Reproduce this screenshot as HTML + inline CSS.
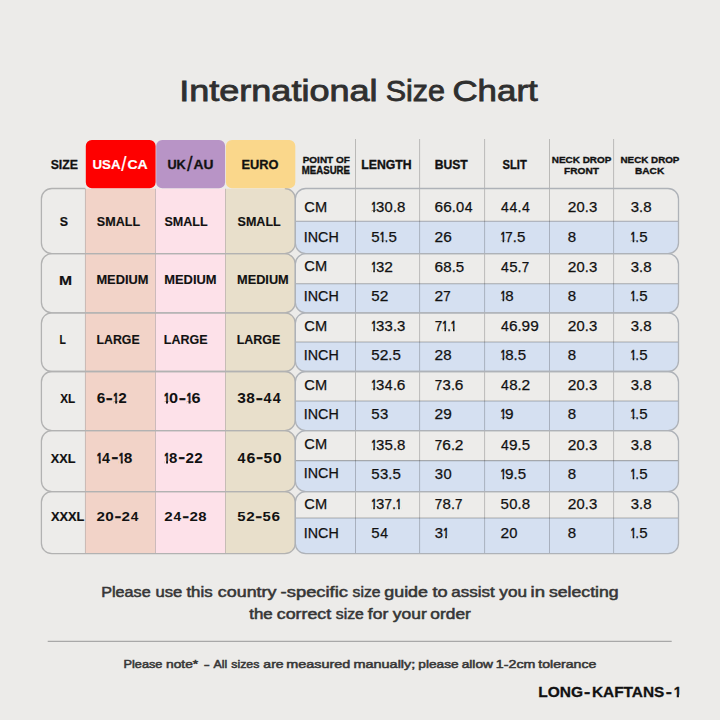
<!DOCTYPE html>
<html><head><meta charset="utf-8"><title>International Size Chart</title>
<style>
html,body{margin:0;padding:0;background:#ECEBE9;}
body{width:720px;height:720px;overflow:hidden;}
svg{display:block;}
text{font-family:"Liberation Sans", sans-serif;}
</style></head><body>
<svg width="720" height="720" viewBox="0 0 720 720">
<defs><clipPath id="cl0"><path d="M51.9,188.5 H284.8 A10.5,10.5 0 0 1 295.3,199 V243.1 A10.5,10.5 0 0 1 284.8,253.6 H51.9 A10.5,10.5 0 0 1 41.4,243.1 V199 A10.5,10.5 0 0 1 51.9,188.5 Z"/></clipPath><clipPath id="cr0"><path d="M305.8,188.5 H668 A10.5,10.5 0 0 1 678.5,199 V243.1 A10.5,10.5 0 0 1 668,253.6 H305.8 A10.5,10.5 0 0 1 295.3,243.1 V199 A10.5,10.5 0 0 1 305.8,188.5 Z"/></clipPath><clipPath id="cl1"><path d="M51.9,253.6 H284.8 A10.5,10.5 0 0 1 295.3,264.1 V302.3 A10.5,10.5 0 0 1 284.8,312.8 H51.9 A10.5,10.5 0 0 1 41.4,302.3 V264.1 A10.5,10.5 0 0 1 51.9,253.6 Z"/></clipPath><clipPath id="cr1"><path d="M305.8,253.6 H668 A10.5,10.5 0 0 1 678.5,264.1 V302.3 A10.5,10.5 0 0 1 668,312.8 H305.8 A10.5,10.5 0 0 1 295.3,302.3 V264.1 A10.5,10.5 0 0 1 305.8,253.6 Z"/></clipPath><clipPath id="cl2"><path d="M51.9,312.8 H284.8 A10.5,10.5 0 0 1 295.3,323.3 V361 A10.5,10.5 0 0 1 284.8,371.5 H51.9 A10.5,10.5 0 0 1 41.4,361 V323.3 A10.5,10.5 0 0 1 51.9,312.8 Z"/></clipPath><clipPath id="cr2"><path d="M305.8,312.8 H668 A10.5,10.5 0 0 1 678.5,323.3 V361 A10.5,10.5 0 0 1 668,371.5 H305.8 A10.5,10.5 0 0 1 295.3,361 V323.3 A10.5,10.5 0 0 1 305.8,312.8 Z"/></clipPath><clipPath id="cl3"><path d="M51.9,371.5 H284.8 A10.5,10.5 0 0 1 295.3,382 V420.1 A10.5,10.5 0 0 1 284.8,430.6 H51.9 A10.5,10.5 0 0 1 41.4,420.1 V382 A10.5,10.5 0 0 1 51.9,371.5 Z"/></clipPath><clipPath id="cr3"><path d="M305.8,371.5 H668 A10.5,10.5 0 0 1 678.5,382 V420.1 A10.5,10.5 0 0 1 668,430.6 H305.8 A10.5,10.5 0 0 1 295.3,420.1 V382 A10.5,10.5 0 0 1 305.8,371.5 Z"/></clipPath><clipPath id="cl4"><path d="M51.9,430.6 H284.8 A10.5,10.5 0 0 1 295.3,441.1 V481.1 A10.5,10.5 0 0 1 284.8,491.6 H51.9 A10.5,10.5 0 0 1 41.4,481.1 V441.1 A10.5,10.5 0 0 1 51.9,430.6 Z"/></clipPath><clipPath id="cr4"><path d="M305.8,430.6 H668 A10.5,10.5 0 0 1 678.5,441.1 V481.1 A10.5,10.5 0 0 1 668,491.6 H305.8 A10.5,10.5 0 0 1 295.3,481.1 V441.1 A10.5,10.5 0 0 1 305.8,430.6 Z"/></clipPath><clipPath id="cl5"><path d="M51.9,491.6 H284.8 A10.5,10.5 0 0 1 295.3,502.1 V543.2 A10.5,10.5 0 0 1 284.8,553.7 H51.9 A10.5,10.5 0 0 1 41.4,543.2 V502.1 A10.5,10.5 0 0 1 51.9,491.6 Z"/></clipPath><clipPath id="cr5"><path d="M305.8,491.6 H668 A10.5,10.5 0 0 1 678.5,502.1 V543.2 A10.5,10.5 0 0 1 668,553.7 H305.8 A10.5,10.5 0 0 1 295.3,543.2 V502.1 A10.5,10.5 0 0 1 305.8,491.6 Z"/></clipPath><clipPath id="h0"><path clip-rule="evenodd" d="M91.2,387.4 H132.1 V409.2 H91.2 Z M113.33,401.26 H115.21 V405.07 H113.33 Z M117.07,401.26 H119.11 V405.07 H117.07 Z"/></clipPath><clipPath id="h1"><path clip-rule="evenodd" d="M158.5,387.4 H206 V409.2 H158.5 Z M164.05,401.26 H166.04 V405.07 H164.05 Z M167.97,401.26 H170.11 V405.07 H167.97 Z M186.58,401.26 H188.57 V405.07 H186.58 Z M190.49,401.26 H192.64 V405.07 H190.49 Z"/></clipPath><clipPath id="h2"><path clip-rule="evenodd" d="M91.3,447 H138 V468.9 H91.3 Z M96.86,460.95 H98.79 V464.77 H96.86 Z M100.69,460.95 H102.79 V464.77 H100.69 Z M118.88,460.95 H120.82 V464.77 H118.88 Z M122.71,460.95 H124.81 V464.77 H122.71 Z"/></clipPath><clipPath id="h3"><path clip-rule="evenodd" d="M158.7,447 H208.3 V468.9 H158.7 Z M164.26,460.95 H166.14 V464.77 H164.26 Z M167.98,460.95 H170.03 V464.77 H167.98 Z"/></clipPath><clipPath id="h4"><path clip-rule="evenodd" d="M365.8,196.3 H437.8 V218.3 H365.8 Z M371.36,210.53 H373.3 V213.98 H371.36 Z M374.8,210.53 H376.91 V213.98 H374.8 Z"/></clipPath><clipPath id="h5"><path clip-rule="evenodd" d="M365.8,226 H437.8 V248 H365.8 Z M379.96,240.23 H381.9 V243.68 H379.96 Z M383.4,240.23 H385.51 V243.68 H383.4 Z"/></clipPath><clipPath id="h6"><path clip-rule="evenodd" d="M495.1,226 H567.1 V248 H495.1 Z M500.66,240.23 H502.6 V243.68 H500.66 Z M504.1,240.23 H506.21 V243.68 H504.1 Z"/></clipPath><clipPath id="h7"><path clip-rule="evenodd" d="M625.2,226 H697.2 V248 H625.2 Z M630.76,240.23 H632.7 V243.68 H630.76 Z M634.2,240.23 H636.31 V243.68 H634.2 Z"/></clipPath><clipPath id="h8"><path clip-rule="evenodd" d="M365.8,255.5 H437.8 V277.5 H365.8 Z M371.36,269.73 H373.3 V273.18 H371.36 Z M374.8,269.73 H376.91 V273.18 H374.8 Z"/></clipPath><clipPath id="h9"><path clip-rule="evenodd" d="M495.1,285 H567.1 V307 H495.1 Z M500.66,299.23 H502.6 V302.68 H500.66 Z M504.1,299.23 H506.21 V302.68 H504.1 Z"/></clipPath><clipPath id="h10"><path clip-rule="evenodd" d="M625.2,285 H697.2 V307 H625.2 Z M630.76,299.23 H632.7 V302.68 H630.76 Z M634.2,299.23 H636.31 V302.68 H634.2 Z"/></clipPath><clipPath id="h11"><path clip-rule="evenodd" d="M365.8,314.8 H437.8 V336.8 H365.8 Z M371.36,329.03 H373.3 V332.48 H371.36 Z M374.8,329.03 H376.91 V332.48 H374.8 Z"/></clipPath><clipPath id="h12"><path clip-rule="evenodd" d="M429.2,314.8 H501.2 V336.8 H429.2 Z M442.56,329.03 H444.5 V332.48 H442.56 Z M446,329.03 H448.11 V332.48 H446 Z M451.06,329.03 H453 V332.48 H451.06 Z M454.5,329.03 H456.61 V332.48 H454.5 Z"/></clipPath><clipPath id="h13"><path clip-rule="evenodd" d="M495.1,344.1 H567.1 V366.1 H495.1 Z M500.66,358.33 H502.6 V361.78 H500.66 Z M504.1,358.33 H506.21 V361.78 H504.1 Z"/></clipPath><clipPath id="h14"><path clip-rule="evenodd" d="M625.2,344.1 H697.2 V366.1 H625.2 Z M630.76,358.33 H632.7 V361.78 H630.76 Z M634.2,358.33 H636.31 V361.78 H634.2 Z"/></clipPath><clipPath id="h15"><path clip-rule="evenodd" d="M365.8,373.9 H437.8 V395.9 H365.8 Z M371.36,388.13 H373.3 V391.57 H371.36 Z M374.8,388.13 H376.91 V391.57 H374.8 Z"/></clipPath><clipPath id="h16"><path clip-rule="evenodd" d="M495.1,403.3 H567.1 V425.3 H495.1 Z M500.66,417.53 H502.6 V420.98 H500.66 Z M504.1,417.53 H506.21 V420.98 H504.1 Z"/></clipPath><clipPath id="h17"><path clip-rule="evenodd" d="M625.2,403.3 H697.2 V425.3 H625.2 Z M630.76,417.53 H632.7 V420.98 H630.76 Z M634.2,417.53 H636.31 V420.98 H634.2 Z"/></clipPath><clipPath id="h18"><path clip-rule="evenodd" d="M365.8,433.5 H437.8 V455.5 H365.8 Z M371.36,447.73 H373.3 V451.18 H371.36 Z M374.8,447.73 H376.91 V451.18 H374.8 Z"/></clipPath><clipPath id="h19"><path clip-rule="evenodd" d="M495.1,462.5 H567.1 V484.5 H495.1 Z M500.66,476.73 H502.6 V480.18 H500.66 Z M504.1,476.73 H506.21 V480.18 H504.1 Z"/></clipPath><clipPath id="h20"><path clip-rule="evenodd" d="M625.2,462.5 H697.2 V484.5 H625.2 Z M630.76,476.73 H632.7 V480.18 H630.76 Z M634.2,476.73 H636.31 V480.18 H634.2 Z"/></clipPath><clipPath id="h21"><path clip-rule="evenodd" d="M365.8,492.7 H437.8 V514.7 H365.8 Z M371.36,506.93 H373.3 V510.38 H371.36 Z M374.8,506.93 H376.91 V510.38 H374.8 Z M396.26,506.93 H398.2 V510.38 H396.26 Z M399.7,506.93 H401.81 V510.38 H399.7 Z"/></clipPath><clipPath id="h22"><path clip-rule="evenodd" d="M429.2,521.8 H501.2 V543.8 H429.2 Z M443.36,536.03 H445.3 V539.47 H443.36 Z M446.8,536.03 H448.91 V539.47 H446.8 Z"/></clipPath><clipPath id="h23"><path clip-rule="evenodd" d="M625.2,521.8 H697.2 V543.8 H625.2 Z M630.76,536.03 H632.7 V539.47 H630.76 Z M634.2,536.03 H636.31 V539.47 H634.2 Z"/></clipPath><clipPath id="h24"><path clip-rule="evenodd" d="M533.35,677.95 H684.75 V704.65 H533.35 Z M673.93,694.81 H676.78 V698.3 H673.93 Z M678.9,694.81 H682.41 V698.3 H678.9 Z"/></clipPath></defs>
<rect width="720" height="720" fill="#ECEBE9"/>
<g clip-path="url(#cl0)">
<rect x="41.4" y="188.5" width="44" height="65.1" fill="#EDECEA"/>
<rect x="85.4" y="188.5" width="70.1" height="65.1" fill="#F2D3C8"/>
<rect x="155.5" y="188.5" width="70" height="65.1" fill="#FDE1E9"/>
<rect x="225.5" y="188.5" width="69.8" height="65.1" fill="#E8DFCB"/>
<line x1="85.4" y1="188.5" x2="85.4" y2="253.6" stroke="#000" stroke-opacity="0.17" stroke-width="1"/>
<line x1="155.5" y1="188.5" x2="155.5" y2="253.6" stroke="#000" stroke-opacity="0.17" stroke-width="1"/>
<line x1="225.5" y1="188.5" x2="225.5" y2="253.6" stroke="#000" stroke-opacity="0.17" stroke-width="1"/>
</g>
<g clip-path="url(#cr0)">
<rect x="295.3" y="188.5" width="383.2" height="32.8" fill="#EDECEA"/>
<rect x="295.3" y="221.3" width="383.2" height="32.3" fill="#D5E0F1"/>
<line x1="295.3" y1="221.3" x2="678.5" y2="221.3" stroke="#000" stroke-opacity="0.27" stroke-width="1.1"/>
</g>
<g clip-path="url(#cl1)">
<rect x="41.4" y="253.6" width="44" height="59.2" fill="#EDECEA"/>
<rect x="85.4" y="253.6" width="70.1" height="59.2" fill="#F2D3C8"/>
<rect x="155.5" y="253.6" width="70" height="59.2" fill="#FDE1E9"/>
<rect x="225.5" y="253.6" width="69.8" height="59.2" fill="#E8DFCB"/>
<line x1="85.4" y1="253.6" x2="85.4" y2="312.8" stroke="#000" stroke-opacity="0.17" stroke-width="1"/>
<line x1="155.5" y1="253.6" x2="155.5" y2="312.8" stroke="#000" stroke-opacity="0.17" stroke-width="1"/>
<line x1="225.5" y1="253.6" x2="225.5" y2="312.8" stroke="#000" stroke-opacity="0.17" stroke-width="1"/>
</g>
<g clip-path="url(#cr1)">
<rect x="295.3" y="253.6" width="383.2" height="30.1" fill="#EDECEA"/>
<rect x="295.3" y="283.7" width="383.2" height="29.1" fill="#D5E0F1"/>
<line x1="295.3" y1="283.7" x2="678.5" y2="283.7" stroke="#000" stroke-opacity="0.27" stroke-width="1.1"/>
</g>
<g clip-path="url(#cl2)">
<rect x="41.4" y="312.8" width="44" height="58.7" fill="#EDECEA"/>
<rect x="85.4" y="312.8" width="70.1" height="58.7" fill="#F2D3C8"/>
<rect x="155.5" y="312.8" width="70" height="58.7" fill="#FDE1E9"/>
<rect x="225.5" y="312.8" width="69.8" height="58.7" fill="#E8DFCB"/>
<line x1="85.4" y1="312.8" x2="85.4" y2="371.5" stroke="#000" stroke-opacity="0.17" stroke-width="1"/>
<line x1="155.5" y1="312.8" x2="155.5" y2="371.5" stroke="#000" stroke-opacity="0.17" stroke-width="1"/>
<line x1="225.5" y1="312.8" x2="225.5" y2="371.5" stroke="#000" stroke-opacity="0.17" stroke-width="1"/>
</g>
<g clip-path="url(#cr2)">
<rect x="295.3" y="312.8" width="383.2" height="29.2" fill="#EDECEA"/>
<rect x="295.3" y="342.0" width="383.2" height="29.5" fill="#D5E0F1"/>
<line x1="295.3" y1="342.0" x2="678.5" y2="342.0" stroke="#000" stroke-opacity="0.27" stroke-width="1.1"/>
</g>
<g clip-path="url(#cl3)">
<rect x="41.4" y="371.5" width="44" height="59.1" fill="#EDECEA"/>
<rect x="85.4" y="371.5" width="70.1" height="59.1" fill="#F2D3C8"/>
<rect x="155.5" y="371.5" width="70" height="59.1" fill="#FDE1E9"/>
<rect x="225.5" y="371.5" width="69.8" height="59.1" fill="#E8DFCB"/>
<line x1="85.4" y1="371.5" x2="85.4" y2="430.6" stroke="#000" stroke-opacity="0.17" stroke-width="1"/>
<line x1="155.5" y1="371.5" x2="155.5" y2="430.6" stroke="#000" stroke-opacity="0.17" stroke-width="1"/>
<line x1="225.5" y1="371.5" x2="225.5" y2="430.6" stroke="#000" stroke-opacity="0.17" stroke-width="1"/>
</g>
<g clip-path="url(#cr3)">
<rect x="295.3" y="371.5" width="383.2" height="29.5" fill="#EDECEA"/>
<rect x="295.3" y="401.0" width="383.2" height="29.6" fill="#D5E0F1"/>
<line x1="295.3" y1="401.0" x2="678.5" y2="401.0" stroke="#000" stroke-opacity="0.27" stroke-width="1.1"/>
</g>
<g clip-path="url(#cl4)">
<rect x="41.4" y="430.6" width="44" height="61" fill="#EDECEA"/>
<rect x="85.4" y="430.6" width="70.1" height="61" fill="#F2D3C8"/>
<rect x="155.5" y="430.6" width="70" height="61" fill="#FDE1E9"/>
<rect x="225.5" y="430.6" width="69.8" height="61" fill="#E8DFCB"/>
<line x1="85.4" y1="430.6" x2="85.4" y2="491.6" stroke="#000" stroke-opacity="0.17" stroke-width="1"/>
<line x1="155.5" y1="430.6" x2="155.5" y2="491.6" stroke="#000" stroke-opacity="0.17" stroke-width="1"/>
<line x1="225.5" y1="430.6" x2="225.5" y2="491.6" stroke="#000" stroke-opacity="0.17" stroke-width="1"/>
</g>
<g clip-path="url(#cr4)">
<rect x="295.3" y="430.6" width="383.2" height="30" fill="#EDECEA"/>
<rect x="295.3" y="460.6" width="383.2" height="31" fill="#D5E0F1"/>
<line x1="295.3" y1="460.6" x2="678.5" y2="460.6" stroke="#000" stroke-opacity="0.27" stroke-width="1.1"/>
</g>
<g clip-path="url(#cl5)">
<rect x="41.4" y="491.6" width="44" height="62.1" fill="#EDECEA"/>
<rect x="85.4" y="491.6" width="70.1" height="62.1" fill="#F2D3C8"/>
<rect x="155.5" y="491.6" width="70" height="62.1" fill="#FDE1E9"/>
<rect x="225.5" y="491.6" width="69.8" height="62.1" fill="#E8DFCB"/>
<line x1="85.4" y1="491.6" x2="85.4" y2="553.7" stroke="#000" stroke-opacity="0.17" stroke-width="1"/>
<line x1="155.5" y1="491.6" x2="155.5" y2="553.7" stroke="#000" stroke-opacity="0.17" stroke-width="1"/>
<line x1="225.5" y1="491.6" x2="225.5" y2="553.7" stroke="#000" stroke-opacity="0.17" stroke-width="1"/>
</g>
<g clip-path="url(#cr5)">
<rect x="295.3" y="491.6" width="383.2" height="26.4" fill="#EDECEA"/>
<rect x="295.3" y="518.0" width="383.2" height="35.7" fill="#D5E0F1"/>
<line x1="295.3" y1="518.0" x2="678.5" y2="518.0" stroke="#000" stroke-opacity="0.27" stroke-width="1.1"/>
</g>
<line x1="355.5" y1="139" x2="355.5" y2="554" stroke="#000" stroke-opacity="0.21" stroke-width="1"/>
<line x1="419.6" y1="139" x2="419.6" y2="554" stroke="#000" stroke-opacity="0.21" stroke-width="1"/>
<line x1="484.6" y1="139" x2="484.6" y2="554" stroke="#000" stroke-opacity="0.21" stroke-width="1"/>
<line x1="549.5" y1="139" x2="549.5" y2="554" stroke="#000" stroke-opacity="0.21" stroke-width="1"/>
<line x1="613.6" y1="139" x2="613.6" y2="554" stroke="#000" stroke-opacity="0.21" stroke-width="1"/>
<path d="M85.4,188.5 H51.9 A10.5,10.5 0 0 0 41.4,199 V243.1 A10.5,10.5 0 0 0 51.9,253.6 H284.8 A10.5,10.5 0 0 0 295.3,243.1 V199 A10.5,10.5 0 0 0 284.8,188.5" fill="none" stroke="#B2B2B2" stroke-width="1.3"/>
<path d="M305.8,188.5 H668 A10.5,10.5 0 0 1 678.5,199 V243.1 A10.5,10.5 0 0 1 668,253.6 H305.8 A10.5,10.5 0 0 1 295.3,243.1 V199 A10.5,10.5 0 0 1 305.8,188.5 Z" fill="none" stroke="#AEB2B8" stroke-width="1.3"/>
<path d="M51.9,253.6 H284.8 A10.5,10.5 0 0 1 295.3,264.1 V302.3 A10.5,10.5 0 0 1 284.8,312.8 H51.9 A10.5,10.5 0 0 1 41.4,302.3 V264.1 A10.5,10.5 0 0 1 51.9,253.6 Z" fill="none" stroke="#B2B2B2" stroke-width="1.3"/>
<path d="M305.8,253.6 H668 A10.5,10.5 0 0 1 678.5,264.1 V302.3 A10.5,10.5 0 0 1 668,312.8 H305.8 A10.5,10.5 0 0 1 295.3,302.3 V264.1 A10.5,10.5 0 0 1 305.8,253.6 Z" fill="none" stroke="#AEB2B8" stroke-width="1.3"/>
<path d="M51.9,312.8 H284.8 A10.5,10.5 0 0 1 295.3,323.3 V361 A10.5,10.5 0 0 1 284.8,371.5 H51.9 A10.5,10.5 0 0 1 41.4,361 V323.3 A10.5,10.5 0 0 1 51.9,312.8 Z" fill="none" stroke="#B2B2B2" stroke-width="1.3"/>
<path d="M305.8,312.8 H668 A10.5,10.5 0 0 1 678.5,323.3 V361 A10.5,10.5 0 0 1 668,371.5 H305.8 A10.5,10.5 0 0 1 295.3,361 V323.3 A10.5,10.5 0 0 1 305.8,312.8 Z" fill="none" stroke="#AEB2B8" stroke-width="1.3"/>
<path d="M51.9,371.5 H284.8 A10.5,10.5 0 0 1 295.3,382 V420.1 A10.5,10.5 0 0 1 284.8,430.6 H51.9 A10.5,10.5 0 0 1 41.4,420.1 V382 A10.5,10.5 0 0 1 51.9,371.5 Z" fill="none" stroke="#B2B2B2" stroke-width="1.3"/>
<path d="M305.8,371.5 H668 A10.5,10.5 0 0 1 678.5,382 V420.1 A10.5,10.5 0 0 1 668,430.6 H305.8 A10.5,10.5 0 0 1 295.3,420.1 V382 A10.5,10.5 0 0 1 305.8,371.5 Z" fill="none" stroke="#AEB2B8" stroke-width="1.3"/>
<path d="M51.9,430.6 H284.8 A10.5,10.5 0 0 1 295.3,441.1 V481.1 A10.5,10.5 0 0 1 284.8,491.6 H51.9 A10.5,10.5 0 0 1 41.4,481.1 V441.1 A10.5,10.5 0 0 1 51.9,430.6 Z" fill="none" stroke="#B2B2B2" stroke-width="1.3"/>
<path d="M305.8,430.6 H668 A10.5,10.5 0 0 1 678.5,441.1 V481.1 A10.5,10.5 0 0 1 668,491.6 H305.8 A10.5,10.5 0 0 1 295.3,481.1 V441.1 A10.5,10.5 0 0 1 305.8,430.6 Z" fill="none" stroke="#AEB2B8" stroke-width="1.3"/>
<path d="M51.9,491.6 H284.8 A10.5,10.5 0 0 1 295.3,502.1 V543.2 A10.5,10.5 0 0 1 284.8,553.7 H51.9 A10.5,10.5 0 0 1 41.4,543.2 V502.1 A10.5,10.5 0 0 1 51.9,491.6 Z" fill="none" stroke="#B2B2B2" stroke-width="1.3"/>
<path d="M305.8,491.6 H668 A10.5,10.5 0 0 1 678.5,502.1 V543.2 A10.5,10.5 0 0 1 668,553.7 H305.8 A10.5,10.5 0 0 1 295.3,543.2 V502.1 A10.5,10.5 0 0 1 305.8,491.6 Z" fill="none" stroke="#AEB2B8" stroke-width="1.3"/>
<path d="M91.8,140 H149.6 A6,6 0 0 1 155.6,146 V182.3 A6,6 0 0 1 149.6,188.3 H91.8 A6,6 0 0 1 85.8,182.3 V146 A6,6 0 0 1 91.8,140 Z" fill="#FE0000"/>
<path d="M162.2,140 H219.1 A6,6 0 0 1 225.1,146 V182.3 A6,6 0 0 1 219.1,188.3 H162.2 A6,6 0 0 1 156.2,182.3 V146 A6,6 0 0 1 162.2,140 Z" fill="#B894C6"/>
<path d="M231.9,140 H289.3 A6,6 0 0 1 295.3,146 V182.3 A6,6 0 0 1 289.3,188.3 H231.9 A6,6 0 0 1 225.9,182.3 V146 A6,6 0 0 1 231.9,140 Z" fill="#FAD78B"/>
<line x1="47.7" y1="641.3" x2="671.7" y2="641.3" stroke="#A8A8A8" stroke-width="1.2"/>
<text y="101.4" font-size="28.7" font-weight="400" fill="#2f2f2f" stroke="#2f2f2f" stroke-width="0.8"><tspan x="179.15" textLength="198.49" lengthAdjust="spacingAndGlyphs">International</tspan> <tspan x="385.73" textLength="59.33" lengthAdjust="spacingAndGlyphs">Size</tspan> <tspan x="452.46" textLength="85.24" lengthAdjust="spacingAndGlyphs">Chart</tspan></text>
<text x="50.64" y="168.75" font-size="13.38" font-weight="700" fill="#111" stroke="#111" stroke-width="0.3" textLength="27.36" lengthAdjust="spacingAndGlyphs">SIZE</text>
<text y="169.2" font-size="13.38" font-weight="700" fill="#ffffff" stroke="#ffffff" stroke-width="0.2"><tspan x="92.5" y="169.2" font-size="13.38" textLength="28.09" lengthAdjust="spacingAndGlyphs">USA</tspan><tspan x="121.35" y="171.49" font-size="20.54" font-weight="400" textLength="5.21" lengthAdjust="spacingAndGlyphs">/</tspan><tspan x="127.44" y="169.2" font-size="13.38" textLength="20.27" lengthAdjust="spacingAndGlyphs">CA</tspan></text>
<text y="169.15" font-size="13.24" font-weight="700" fill="#111" stroke="#111" stroke-width="0.3"><tspan x="167.39" y="169.15" font-size="13.24" textLength="18.35" lengthAdjust="spacingAndGlyphs">UK</tspan><tspan x="187.05" y="171.44" font-size="20.41" font-weight="400" textLength="5.51" lengthAdjust="spacingAndGlyphs">/</tspan><tspan x="193.47" y="169.15" font-size="13.24" textLength="19.91" lengthAdjust="spacingAndGlyphs">AU</tspan></text>
<text x="241.42" y="168.75" font-size="12.81" font-weight="700" fill="#111" stroke="#111" stroke-width="0.3" textLength="37.02" lengthAdjust="spacingAndGlyphs">EURO</text>
<text x="302.73" y="163.02" font-size="9.57" font-weight="700" fill="#111" stroke="#111" stroke-width="0.35" textLength="47.05" lengthAdjust="spacingAndGlyphs">POINT OF</text>
<text x="301.85" y="174.02" font-size="10" font-weight="700" fill="#111" stroke="#111" stroke-width="0.35" textLength="48.13" lengthAdjust="spacingAndGlyphs">MEASURE</text>
<text x="361.28" y="168.82" font-size="12.73" font-weight="700" fill="#111" stroke="#111" stroke-width="0.35" textLength="50.37" lengthAdjust="spacingAndGlyphs">LENGTH</text>
<text x="434.69" y="168.82" font-size="12.73" font-weight="700" fill="#111" stroke="#111" stroke-width="0.35" textLength="33.01" lengthAdjust="spacingAndGlyphs">BUST</text>
<text x="502.6" y="168.82" font-size="12.73" font-weight="700" fill="#111" stroke="#111" stroke-width="0.35" textLength="24.19" lengthAdjust="spacingAndGlyphs">SLIT</text>
<text x="551.83" y="162.72" font-size="9.71" font-weight="700" fill="#111" stroke="#111" stroke-width="0.35" textLength="59.51" lengthAdjust="spacingAndGlyphs">NECK DROP</text>
<text x="564.02" y="174.42" font-size="9.86" font-weight="700" fill="#111" stroke="#111" stroke-width="0.35" textLength="34.87" lengthAdjust="spacingAndGlyphs">FRONT</text>
<text x="620.54" y="162.72" font-size="9.71" font-weight="700" fill="#111" stroke="#111" stroke-width="0.35" textLength="58.9" lengthAdjust="spacingAndGlyphs">NECK DROP</text>
<text x="635.02" y="174.42" font-size="9.86" font-weight="700" fill="#111" stroke="#111" stroke-width="0.35" textLength="29.18" lengthAdjust="spacingAndGlyphs">BACK</text>
<text x="59.79" y="225.8" font-size="13.38" font-weight="700" fill="#111" stroke="#111" stroke-width="0.2" textLength="8.27" lengthAdjust="spacingAndGlyphs">S</text>
<text x="96.86" y="225.78" font-size="13.53" font-weight="700" fill="#111" stroke="#111" stroke-width="0.15" textLength="43.19" lengthAdjust="spacingAndGlyphs">SMALL</text>
<text x="164.46" y="225.78" font-size="13.53" font-weight="700" fill="#111" stroke="#111" stroke-width="0.15" textLength="43.19" lengthAdjust="spacingAndGlyphs">SMALL</text>
<text x="237.56" y="225.78" font-size="13.53" font-weight="700" fill="#111" stroke="#111" stroke-width="0.15" textLength="43.19" lengthAdjust="spacingAndGlyphs">SMALL</text>
<text x="59.08" y="284.9" font-size="13.53" font-weight="700" fill="#111" stroke="#111" stroke-width="0.2" textLength="13.06" lengthAdjust="spacingAndGlyphs">M</text>
<text x="96.44" y="283.82" font-size="12.45" font-weight="700" fill="#111" stroke="#111" stroke-width="0.15" textLength="51.99" lengthAdjust="spacingAndGlyphs">MEDIUM</text>
<text x="164.24" y="283.82" font-size="12.45" font-weight="700" fill="#111" stroke="#111" stroke-width="0.15" textLength="52.3" lengthAdjust="spacingAndGlyphs">MEDIUM</text>
<text x="237.05" y="283.82" font-size="12.45" font-weight="700" fill="#111" stroke="#111" stroke-width="0.15" textLength="51.68" lengthAdjust="spacingAndGlyphs">MEDIUM</text>
<text x="59.43" y="343.6" font-size="13.67" font-weight="700" fill="#111" stroke="#111" stroke-width="0.2" textLength="6.34" lengthAdjust="spacingAndGlyphs">L</text>
<text x="96.47" y="343.73" font-size="13.53" font-weight="700" fill="#111" stroke="#111" stroke-width="0.15" textLength="43.21" lengthAdjust="spacingAndGlyphs">LARGE</text>
<text x="163.76" y="343.73" font-size="13.53" font-weight="700" fill="#111" stroke="#111" stroke-width="0.15" textLength="43.72" lengthAdjust="spacingAndGlyphs">LARGE</text>
<text x="236.76" y="343.73" font-size="13.53" font-weight="700" fill="#111" stroke="#111" stroke-width="0.15" textLength="43.62" lengthAdjust="spacingAndGlyphs">LARGE</text>
<text x="60.24" y="403.2" font-size="13.24" font-weight="700" fill="#111" stroke="#111" stroke-width="0.2" textLength="14.96" lengthAdjust="spacingAndGlyphs">XL</text>
<text y="403.2" font-size="14.1" font-weight="700" fill="#111" clip-path="url(#h0)"><tspan x="96.66" textLength="8.58" lengthAdjust="spacingAndGlyphs" y="403.2">6</tspan><tspan x="106.13" textLength="6.46" lengthAdjust="spacingAndGlyphs" stroke="#111" stroke-width="0.45" y="402.6">-</tspan><tspan x="113.6" textLength="4.72" lengthAdjust="spacingAndGlyphs" stroke="#111" stroke-width="0.75" y="403.2">1</tspan><tspan x="118.15" textLength="8.5" lengthAdjust="spacingAndGlyphs" y="403.2">2</tspan></text>
<text y="403.2" font-size="14.1" font-weight="700" fill="#111" clip-path="url(#h1)"><tspan x="164.29" textLength="5.03" lengthAdjust="spacingAndGlyphs" stroke="#111" stroke-width="0.75" y="403.2">1</tspan><tspan x="169.03" textLength="9.03" lengthAdjust="spacingAndGlyphs" y="403.2">0</tspan><tspan x="178.97" textLength="6.82" lengthAdjust="spacingAndGlyphs" stroke="#111" stroke-width="0.45" y="402.6">-</tspan><tspan x="186.82" textLength="5.03" lengthAdjust="spacingAndGlyphs" stroke="#111" stroke-width="0.75" y="403.2">1</tspan><tspan x="191.55" textLength="9.03" lengthAdjust="spacingAndGlyphs" y="403.2">6</tspan></text>
<text y="403.2" font-size="14.1" font-weight="700" fill="#111"><tspan x="237.19" textLength="8.61" lengthAdjust="spacingAndGlyphs" y="403.2">3</tspan><tspan x="246.33" textLength="8.61" lengthAdjust="spacingAndGlyphs" y="403.2">8</tspan><tspan x="256.01" textLength="6.69" lengthAdjust="spacingAndGlyphs" stroke="#111" stroke-width="0.45" y="402.6">-</tspan><tspan x="263.55" textLength="7.97" lengthAdjust="spacingAndGlyphs" y="403.2">4</tspan><tspan x="272.84" textLength="7.97" lengthAdjust="spacingAndGlyphs" y="403.2">4</tspan></text>
<text x="50.84" y="462.8" font-size="13.24" font-weight="700" fill="#111" stroke="#111" stroke-width="0.2" textLength="24.69" lengthAdjust="spacingAndGlyphs">XXL</text>
<text y="462.9" font-size="14.24" font-weight="700" fill="#111" clip-path="url(#h2)"><tspan x="97.1" textLength="4.89" lengthAdjust="spacingAndGlyphs" stroke="#111" stroke-width="0.75" y="462.9">1</tspan><tspan x="102.07" textLength="7.93" lengthAdjust="spacingAndGlyphs" y="462.9">4</tspan><tspan x="111.45" textLength="6.66" lengthAdjust="spacingAndGlyphs" stroke="#111" stroke-width="0.45" y="462.3">-</tspan><tspan x="119.12" textLength="4.89" lengthAdjust="spacingAndGlyphs" stroke="#111" stroke-width="0.75" y="462.9">1</tspan><tspan x="123.84" textLength="8.56" lengthAdjust="spacingAndGlyphs" y="462.9">8</tspan></text>
<text y="462.9" font-size="14.24" font-weight="700" fill="#111" clip-path="url(#h3)"><tspan x="164.53" textLength="4.69" lengthAdjust="spacingAndGlyphs" stroke="#111" stroke-width="0.75" y="462.9">1</tspan><tspan x="169.08" textLength="8.3" lengthAdjust="spacingAndGlyphs" y="462.9">8</tspan><tspan x="178.42" textLength="6.43" lengthAdjust="spacingAndGlyphs" stroke="#111" stroke-width="0.45" y="462.3">-</tspan><tspan x="185.43" textLength="8.47" lengthAdjust="spacingAndGlyphs" y="462.9">2</tspan><tspan x="194.38" textLength="8.47" lengthAdjust="spacingAndGlyphs" y="462.9">2</tspan></text>
<text y="462.9" font-size="14.24" font-weight="700" fill="#111"><tspan x="237.48" textLength="7.97" lengthAdjust="spacingAndGlyphs" y="462.9">4</tspan><tspan x="246.43" textLength="8.87" lengthAdjust="spacingAndGlyphs" y="462.9">6</tspan><tspan x="256.21" textLength="6.69" lengthAdjust="spacingAndGlyphs" stroke="#111" stroke-width="0.45" y="462.3">-</tspan><tspan x="263.5" textLength="8.61" lengthAdjust="spacingAndGlyphs" y="462.9">5</tspan><tspan x="272.7" textLength="8.87" lengthAdjust="spacingAndGlyphs" y="462.9">0</tspan></text>
<text x="50.94" y="521.3" font-size="12.81" font-weight="700" fill="#111" stroke="#111" stroke-width="0.2" textLength="33.5" lengthAdjust="spacingAndGlyphs">XXXL</text>
<text y="521.4" font-size="13.09" font-weight="700" fill="#111"><tspan x="96.45" textLength="8.42" lengthAdjust="spacingAndGlyphs" y="521.4">2</tspan><tspan x="105.27" textLength="8.51" lengthAdjust="spacingAndGlyphs" y="521.4">0</tspan><tspan x="114.66" textLength="6.39" lengthAdjust="spacingAndGlyphs" stroke="#111" stroke-width="0.45" y="520.8">-</tspan><tspan x="121.62" textLength="8.42" lengthAdjust="spacingAndGlyphs" y="521.4">2</tspan><tspan x="130.77" textLength="7.64" lengthAdjust="spacingAndGlyphs" y="521.4">4</tspan></text>
<text y="521.4" font-size="13.09" font-weight="700" fill="#111"><tspan x="164.25" textLength="8.42" lengthAdjust="spacingAndGlyphs" y="521.4">2</tspan><tspan x="173.4" textLength="7.64" lengthAdjust="spacingAndGlyphs" y="521.4">4</tspan><tspan x="182.46" textLength="6.39" lengthAdjust="spacingAndGlyphs" stroke="#111" stroke-width="0.45" y="520.8">-</tspan><tspan x="189.42" textLength="8.42" lengthAdjust="spacingAndGlyphs" y="521.4">2</tspan><tspan x="198.34" textLength="8.25" lengthAdjust="spacingAndGlyphs" y="521.4">8</tspan></text>
<text y="521.4" font-size="13.09" font-weight="700" fill="#111"><tspan x="237.25" textLength="8.31" lengthAdjust="spacingAndGlyphs" y="521.4">5</tspan><tspan x="246.21" textLength="8.48" lengthAdjust="spacingAndGlyphs" y="521.4">2</tspan><tspan x="255.58" textLength="6.44" lengthAdjust="spacingAndGlyphs" stroke="#111" stroke-width="0.45" y="520.8">-</tspan><tspan x="262.61" textLength="8.31" lengthAdjust="spacingAndGlyphs" y="521.4">5</tspan><tspan x="271.49" textLength="8.57" lengthAdjust="spacingAndGlyphs" y="521.4">6</tspan></text>
<text x="304.39" y="212.18" font-size="14.13" font-weight="400" fill="#111" stroke="#111" stroke-width="0.25" textLength="22.72" lengthAdjust="spacingAndGlyphs">CM</text>
<text x="303.84" y="241.88" font-size="14.13" font-weight="400" fill="#111" stroke="#111" stroke-width="0.25" textLength="34.94" lengthAdjust="spacingAndGlyphs">INCH</text>
<text y="212.3" font-size="14.49" font-weight="400" fill="#111" stroke="#111" stroke-width="0.25" clip-path="url(#h4)"><tspan x="371.4" textLength="4.91" lengthAdjust="spacingAndGlyphs" font-weight="700" stroke="#111" stroke-width="0.35">1</tspan><tspan x="376" textLength="8.28" lengthAdjust="spacingAndGlyphs">3</tspan><tspan x="384.61" textLength="8.2" lengthAdjust="spacingAndGlyphs">0</tspan><tspan x="392.92" textLength="4.03" lengthAdjust="spacingAndGlyphs">.</tspan><tspan x="397.02" textLength="8.37" lengthAdjust="spacingAndGlyphs">8</tspan></text>
<text y="212.3" font-size="14.49" font-weight="400" fill="#111" stroke="#111" stroke-width="0.25"><tspan x="434.56" textLength="8.55" lengthAdjust="spacingAndGlyphs">6</tspan><tspan x="443.16" textLength="8.55" lengthAdjust="spacingAndGlyphs">6</tspan><tspan x="451.72" textLength="4.03" lengthAdjust="spacingAndGlyphs">.</tspan><tspan x="455.91" textLength="8.2" lengthAdjust="spacingAndGlyphs">0</tspan><tspan x="464.74" textLength="7.79" lengthAdjust="spacingAndGlyphs">4</tspan></text>
<text y="212.3" font-size="14.49" font-weight="400" fill="#111" stroke="#111" stroke-width="0.25"><tspan x="500.94" textLength="7.79" lengthAdjust="spacingAndGlyphs">4</tspan><tspan x="509.54" textLength="7.79" lengthAdjust="spacingAndGlyphs">4</tspan><tspan x="517.62" textLength="4.03" lengthAdjust="spacingAndGlyphs">.</tspan><tspan x="522.04" textLength="7.79" lengthAdjust="spacingAndGlyphs">4</tspan></text>
<text y="212.3" font-size="14.49" font-weight="400" fill="#111" stroke="#111" stroke-width="0.25"><tspan x="567.65" textLength="8.64" lengthAdjust="spacingAndGlyphs">2</tspan><tspan x="576.51" textLength="8.2" lengthAdjust="spacingAndGlyphs">0</tspan><tspan x="584.82" textLength="4.03" lengthAdjust="spacingAndGlyphs">.</tspan><tspan x="589" textLength="8.28" lengthAdjust="spacingAndGlyphs">3</tspan></text>
<text y="212.3" font-size="14.49" font-weight="400" fill="#111" stroke="#111" stroke-width="0.25"><tspan x="630.8" textLength="8.28" lengthAdjust="spacingAndGlyphs">3</tspan><tspan x="639.12" textLength="4.03" lengthAdjust="spacingAndGlyphs">.</tspan><tspan x="643.22" textLength="8.37" lengthAdjust="spacingAndGlyphs">8</tspan></text>
<text y="242" font-size="14.49" font-weight="400" fill="#111" stroke="#111" stroke-width="0.25" clip-path="url(#h5)"><tspan x="371.32" textLength="8.37" lengthAdjust="spacingAndGlyphs">5</tspan><tspan x="380" textLength="4.91" lengthAdjust="spacingAndGlyphs" font-weight="700" stroke="#111" stroke-width="0.35">1</tspan><tspan x="384.32" textLength="4.03" lengthAdjust="spacingAndGlyphs">.</tspan><tspan x="388.42" textLength="8.37" lengthAdjust="spacingAndGlyphs">5</tspan></text>
<text y="242" font-size="14.49" font-weight="400" fill="#111" stroke="#111" stroke-width="0.25"><tspan x="434.55" textLength="8.64" lengthAdjust="spacingAndGlyphs">2</tspan><tspan x="443.16" textLength="8.55" lengthAdjust="spacingAndGlyphs">6</tspan></text>
<text y="242" font-size="14.49" font-weight="400" fill="#111" stroke="#111" stroke-width="0.25" clip-path="url(#h6)"><tspan x="500.7" textLength="4.91" lengthAdjust="spacingAndGlyphs" font-weight="700" stroke="#111" stroke-width="0.35">1</tspan><tspan x="505.16" textLength="7.43" lengthAdjust="spacingAndGlyphs">7</tspan><tspan x="512.82" textLength="4.03" lengthAdjust="spacingAndGlyphs">.</tspan><tspan x="516.92" textLength="8.37" lengthAdjust="spacingAndGlyphs">5</tspan></text>
<text y="242" font-size="14.49" font-weight="400" fill="#111" stroke="#111" stroke-width="0.25"><tspan x="567.82" textLength="8.37" lengthAdjust="spacingAndGlyphs">8</tspan></text>
<text y="242" font-size="14.49" font-weight="400" fill="#111" stroke="#111" stroke-width="0.25" clip-path="url(#h7)"><tspan x="630.8" textLength="4.91" lengthAdjust="spacingAndGlyphs" font-weight="700" stroke="#111" stroke-width="0.35">1</tspan><tspan x="635.12" textLength="4.03" lengthAdjust="spacingAndGlyphs">.</tspan><tspan x="639.22" textLength="8.37" lengthAdjust="spacingAndGlyphs">5</tspan></text>
<text x="304.39" y="271.38" font-size="14.13" font-weight="400" fill="#111" stroke="#111" stroke-width="0.25" textLength="22.72" lengthAdjust="spacingAndGlyphs">CM</text>
<text x="303.84" y="300.88" font-size="14.13" font-weight="400" fill="#111" stroke="#111" stroke-width="0.25" textLength="34.94" lengthAdjust="spacingAndGlyphs">INCH</text>
<text y="271.5" font-size="14.49" font-weight="400" fill="#111" stroke="#111" stroke-width="0.25" clip-path="url(#h8)"><tspan x="371.4" textLength="4.91" lengthAdjust="spacingAndGlyphs" font-weight="700" stroke="#111" stroke-width="0.35">1</tspan><tspan x="376" textLength="8.28" lengthAdjust="spacingAndGlyphs">3</tspan><tspan x="384.35" textLength="8.64" lengthAdjust="spacingAndGlyphs">2</tspan></text>
<text y="271.5" font-size="14.49" font-weight="400" fill="#111" stroke="#111" stroke-width="0.25"><tspan x="434.56" textLength="8.55" lengthAdjust="spacingAndGlyphs">6</tspan><tspan x="443.32" textLength="8.37" lengthAdjust="spacingAndGlyphs">8</tspan><tspan x="451.72" textLength="4.03" lengthAdjust="spacingAndGlyphs">.</tspan><tspan x="455.82" textLength="8.37" lengthAdjust="spacingAndGlyphs">5</tspan></text>
<text y="271.5" font-size="14.49" font-weight="400" fill="#111" stroke="#111" stroke-width="0.25"><tspan x="500.94" textLength="7.79" lengthAdjust="spacingAndGlyphs">4</tspan><tspan x="509.22" textLength="8.37" lengthAdjust="spacingAndGlyphs">5</tspan><tspan x="517.62" textLength="4.03" lengthAdjust="spacingAndGlyphs">.</tspan><tspan x="521.66" textLength="7.43" lengthAdjust="spacingAndGlyphs">7</tspan></text>
<text y="271.5" font-size="14.49" font-weight="400" fill="#111" stroke="#111" stroke-width="0.25"><tspan x="567.65" textLength="8.64" lengthAdjust="spacingAndGlyphs">2</tspan><tspan x="576.51" textLength="8.2" lengthAdjust="spacingAndGlyphs">0</tspan><tspan x="584.82" textLength="4.03" lengthAdjust="spacingAndGlyphs">.</tspan><tspan x="589" textLength="8.28" lengthAdjust="spacingAndGlyphs">3</tspan></text>
<text y="271.5" font-size="14.49" font-weight="400" fill="#111" stroke="#111" stroke-width="0.25"><tspan x="630.8" textLength="8.28" lengthAdjust="spacingAndGlyphs">3</tspan><tspan x="639.12" textLength="4.03" lengthAdjust="spacingAndGlyphs">.</tspan><tspan x="643.22" textLength="8.37" lengthAdjust="spacingAndGlyphs">8</tspan></text>
<text y="301" font-size="14.49" font-weight="400" fill="#111" stroke="#111" stroke-width="0.25"><tspan x="371.32" textLength="8.37" lengthAdjust="spacingAndGlyphs">5</tspan><tspan x="379.75" textLength="8.64" lengthAdjust="spacingAndGlyphs">2</tspan></text>
<text y="301" font-size="14.49" font-weight="400" fill="#111" stroke="#111" stroke-width="0.25"><tspan x="434.55" textLength="8.64" lengthAdjust="spacingAndGlyphs">2</tspan><tspan x="443.26" textLength="7.43" lengthAdjust="spacingAndGlyphs">7</tspan></text>
<text y="301" font-size="14.49" font-weight="400" fill="#111" stroke="#111" stroke-width="0.25" clip-path="url(#h9)"><tspan x="500.7" textLength="4.91" lengthAdjust="spacingAndGlyphs" font-weight="700" stroke="#111" stroke-width="0.35">1</tspan><tspan x="505.22" textLength="8.37" lengthAdjust="spacingAndGlyphs">8</tspan></text>
<text y="301" font-size="14.49" font-weight="400" fill="#111" stroke="#111" stroke-width="0.25"><tspan x="567.82" textLength="8.37" lengthAdjust="spacingAndGlyphs">8</tspan></text>
<text y="301" font-size="14.49" font-weight="400" fill="#111" stroke="#111" stroke-width="0.25" clip-path="url(#h10)"><tspan x="630.8" textLength="4.91" lengthAdjust="spacingAndGlyphs" font-weight="700" stroke="#111" stroke-width="0.35">1</tspan><tspan x="635.12" textLength="4.03" lengthAdjust="spacingAndGlyphs">.</tspan><tspan x="639.22" textLength="8.37" lengthAdjust="spacingAndGlyphs">5</tspan></text>
<text x="304.39" y="330.68" font-size="14.13" font-weight="400" fill="#111" stroke="#111" stroke-width="0.25" textLength="22.72" lengthAdjust="spacingAndGlyphs">CM</text>
<text x="303.84" y="359.98" font-size="14.13" font-weight="400" fill="#111" stroke="#111" stroke-width="0.25" textLength="34.94" lengthAdjust="spacingAndGlyphs">INCH</text>
<text y="330.8" font-size="14.49" font-weight="400" fill="#111" stroke="#111" stroke-width="0.25" clip-path="url(#h11)"><tspan x="371.4" textLength="4.91" lengthAdjust="spacingAndGlyphs" font-weight="700" stroke="#111" stroke-width="0.35">1</tspan><tspan x="376" textLength="8.28" lengthAdjust="spacingAndGlyphs">3</tspan><tspan x="384.6" textLength="8.28" lengthAdjust="spacingAndGlyphs">3</tspan><tspan x="392.92" textLength="4.03" lengthAdjust="spacingAndGlyphs">.</tspan><tspan x="397.1" textLength="8.28" lengthAdjust="spacingAndGlyphs">3</tspan></text>
<text y="330.8" font-size="14.49" font-weight="400" fill="#111" stroke="#111" stroke-width="0.25" clip-path="url(#h12)"><tspan x="434.66" textLength="7.43" lengthAdjust="spacingAndGlyphs">7</tspan><tspan x="442.6" textLength="4.91" lengthAdjust="spacingAndGlyphs" font-weight="700" stroke="#111" stroke-width="0.35">1</tspan><tspan x="446.92" textLength="4.03" lengthAdjust="spacingAndGlyphs">.</tspan><tspan x="451.1" textLength="4.91" lengthAdjust="spacingAndGlyphs" font-weight="700" stroke="#111" stroke-width="0.35">1</tspan></text>
<text y="330.8" font-size="14.49" font-weight="400" fill="#111" stroke="#111" stroke-width="0.25"><tspan x="500.94" textLength="7.79" lengthAdjust="spacingAndGlyphs">4</tspan><tspan x="509.06" textLength="8.55" lengthAdjust="spacingAndGlyphs">6</tspan><tspan x="517.62" textLength="4.03" lengthAdjust="spacingAndGlyphs">.</tspan><tspan x="521.63" textLength="8.55" lengthAdjust="spacingAndGlyphs">9</tspan><tspan x="530.23" textLength="8.55" lengthAdjust="spacingAndGlyphs">9</tspan></text>
<text y="330.8" font-size="14.49" font-weight="400" fill="#111" stroke="#111" stroke-width="0.25"><tspan x="567.65" textLength="8.64" lengthAdjust="spacingAndGlyphs">2</tspan><tspan x="576.51" textLength="8.2" lengthAdjust="spacingAndGlyphs">0</tspan><tspan x="584.82" textLength="4.03" lengthAdjust="spacingAndGlyphs">.</tspan><tspan x="589" textLength="8.28" lengthAdjust="spacingAndGlyphs">3</tspan></text>
<text y="330.8" font-size="14.49" font-weight="400" fill="#111" stroke="#111" stroke-width="0.25"><tspan x="630.8" textLength="8.28" lengthAdjust="spacingAndGlyphs">3</tspan><tspan x="639.12" textLength="4.03" lengthAdjust="spacingAndGlyphs">.</tspan><tspan x="643.22" textLength="8.37" lengthAdjust="spacingAndGlyphs">8</tspan></text>
<text y="360.1" font-size="14.49" font-weight="400" fill="#111" stroke="#111" stroke-width="0.25"><tspan x="371.32" textLength="8.37" lengthAdjust="spacingAndGlyphs">5</tspan><tspan x="379.75" textLength="8.64" lengthAdjust="spacingAndGlyphs">2</tspan><tspan x="388.32" textLength="4.03" lengthAdjust="spacingAndGlyphs">.</tspan><tspan x="392.42" textLength="8.37" lengthAdjust="spacingAndGlyphs">5</tspan></text>
<text y="360.1" font-size="14.49" font-weight="400" fill="#111" stroke="#111" stroke-width="0.25"><tspan x="434.55" textLength="8.64" lengthAdjust="spacingAndGlyphs">2</tspan><tspan x="443.32" textLength="8.37" lengthAdjust="spacingAndGlyphs">8</tspan></text>
<text y="360.1" font-size="14.49" font-weight="400" fill="#111" stroke="#111" stroke-width="0.25" clip-path="url(#h13)"><tspan x="500.7" textLength="4.91" lengthAdjust="spacingAndGlyphs" font-weight="700" stroke="#111" stroke-width="0.35">1</tspan><tspan x="505.22" textLength="8.37" lengthAdjust="spacingAndGlyphs">8</tspan><tspan x="513.62" textLength="4.03" lengthAdjust="spacingAndGlyphs">.</tspan><tspan x="517.72" textLength="8.37" lengthAdjust="spacingAndGlyphs">5</tspan></text>
<text y="360.1" font-size="14.49" font-weight="400" fill="#111" stroke="#111" stroke-width="0.25"><tspan x="567.82" textLength="8.37" lengthAdjust="spacingAndGlyphs">8</tspan></text>
<text y="360.1" font-size="14.49" font-weight="400" fill="#111" stroke="#111" stroke-width="0.25" clip-path="url(#h14)"><tspan x="630.8" textLength="4.91" lengthAdjust="spacingAndGlyphs" font-weight="700" stroke="#111" stroke-width="0.35">1</tspan><tspan x="635.12" textLength="4.03" lengthAdjust="spacingAndGlyphs">.</tspan><tspan x="639.22" textLength="8.37" lengthAdjust="spacingAndGlyphs">5</tspan></text>
<text x="304.39" y="389.77" font-size="14.13" font-weight="400" fill="#111" stroke="#111" stroke-width="0.25" textLength="22.72" lengthAdjust="spacingAndGlyphs">CM</text>
<text x="303.84" y="419.18" font-size="14.13" font-weight="400" fill="#111" stroke="#111" stroke-width="0.25" textLength="34.94" lengthAdjust="spacingAndGlyphs">INCH</text>
<text y="389.9" font-size="14.49" font-weight="400" fill="#111" stroke="#111" stroke-width="0.25" clip-path="url(#h15)"><tspan x="371.4" textLength="4.91" lengthAdjust="spacingAndGlyphs" font-weight="700" stroke="#111" stroke-width="0.35">1</tspan><tspan x="376" textLength="8.28" lengthAdjust="spacingAndGlyphs">3</tspan><tspan x="384.84" textLength="7.79" lengthAdjust="spacingAndGlyphs">4</tspan><tspan x="392.92" textLength="4.03" lengthAdjust="spacingAndGlyphs">.</tspan><tspan x="396.86" textLength="8.55" lengthAdjust="spacingAndGlyphs">6</tspan></text>
<text y="389.9" font-size="14.49" font-weight="400" fill="#111" stroke="#111" stroke-width="0.25"><tspan x="434.66" textLength="7.43" lengthAdjust="spacingAndGlyphs">7</tspan><tspan x="442.6" textLength="8.28" lengthAdjust="spacingAndGlyphs">3</tspan><tspan x="450.92" textLength="4.03" lengthAdjust="spacingAndGlyphs">.</tspan><tspan x="454.86" textLength="8.55" lengthAdjust="spacingAndGlyphs">6</tspan></text>
<text y="389.9" font-size="14.49" font-weight="400" fill="#111" stroke="#111" stroke-width="0.25"><tspan x="500.94" textLength="7.79" lengthAdjust="spacingAndGlyphs">4</tspan><tspan x="509.22" textLength="8.37" lengthAdjust="spacingAndGlyphs">8</tspan><tspan x="517.62" textLength="4.03" lengthAdjust="spacingAndGlyphs">.</tspan><tspan x="521.55" textLength="8.64" lengthAdjust="spacingAndGlyphs">2</tspan></text>
<text y="389.9" font-size="14.49" font-weight="400" fill="#111" stroke="#111" stroke-width="0.25"><tspan x="567.65" textLength="8.64" lengthAdjust="spacingAndGlyphs">2</tspan><tspan x="576.51" textLength="8.2" lengthAdjust="spacingAndGlyphs">0</tspan><tspan x="584.82" textLength="4.03" lengthAdjust="spacingAndGlyphs">.</tspan><tspan x="589" textLength="8.28" lengthAdjust="spacingAndGlyphs">3</tspan></text>
<text y="389.9" font-size="14.49" font-weight="400" fill="#111" stroke="#111" stroke-width="0.25"><tspan x="630.8" textLength="8.28" lengthAdjust="spacingAndGlyphs">3</tspan><tspan x="639.12" textLength="4.03" lengthAdjust="spacingAndGlyphs">.</tspan><tspan x="643.22" textLength="8.37" lengthAdjust="spacingAndGlyphs">8</tspan></text>
<text y="419.3" font-size="14.49" font-weight="400" fill="#111" stroke="#111" stroke-width="0.25"><tspan x="371.32" textLength="8.37" lengthAdjust="spacingAndGlyphs">5</tspan><tspan x="380" textLength="8.28" lengthAdjust="spacingAndGlyphs">3</tspan></text>
<text y="419.3" font-size="14.49" font-weight="400" fill="#111" stroke="#111" stroke-width="0.25"><tspan x="434.55" textLength="8.64" lengthAdjust="spacingAndGlyphs">2</tspan><tspan x="443.23" textLength="8.55" lengthAdjust="spacingAndGlyphs">9</tspan></text>
<text y="419.3" font-size="14.49" font-weight="400" fill="#111" stroke="#111" stroke-width="0.25" clip-path="url(#h16)"><tspan x="500.7" textLength="4.91" lengthAdjust="spacingAndGlyphs" font-weight="700" stroke="#111" stroke-width="0.35">1</tspan><tspan x="505.13" textLength="8.55" lengthAdjust="spacingAndGlyphs">9</tspan></text>
<text y="419.3" font-size="14.49" font-weight="400" fill="#111" stroke="#111" stroke-width="0.25"><tspan x="567.82" textLength="8.37" lengthAdjust="spacingAndGlyphs">8</tspan></text>
<text y="419.3" font-size="14.49" font-weight="400" fill="#111" stroke="#111" stroke-width="0.25" clip-path="url(#h17)"><tspan x="630.8" textLength="4.91" lengthAdjust="spacingAndGlyphs" font-weight="700" stroke="#111" stroke-width="0.35">1</tspan><tspan x="635.12" textLength="4.03" lengthAdjust="spacingAndGlyphs">.</tspan><tspan x="639.22" textLength="8.37" lengthAdjust="spacingAndGlyphs">5</tspan></text>
<text x="304.39" y="449.38" font-size="14.13" font-weight="400" fill="#111" stroke="#111" stroke-width="0.25" textLength="22.72" lengthAdjust="spacingAndGlyphs">CM</text>
<text x="303.84" y="478.38" font-size="14.13" font-weight="400" fill="#111" stroke="#111" stroke-width="0.25" textLength="34.94" lengthAdjust="spacingAndGlyphs">INCH</text>
<text y="449.5" font-size="14.49" font-weight="400" fill="#111" stroke="#111" stroke-width="0.25" clip-path="url(#h18)"><tspan x="371.4" textLength="4.91" lengthAdjust="spacingAndGlyphs" font-weight="700" stroke="#111" stroke-width="0.35">1</tspan><tspan x="376" textLength="8.28" lengthAdjust="spacingAndGlyphs">3</tspan><tspan x="384.52" textLength="8.37" lengthAdjust="spacingAndGlyphs">5</tspan><tspan x="392.92" textLength="4.03" lengthAdjust="spacingAndGlyphs">.</tspan><tspan x="397.02" textLength="8.37" lengthAdjust="spacingAndGlyphs">8</tspan></text>
<text y="449.5" font-size="14.49" font-weight="400" fill="#111" stroke="#111" stroke-width="0.25"><tspan x="434.66" textLength="7.43" lengthAdjust="spacingAndGlyphs">7</tspan><tspan x="442.36" textLength="8.55" lengthAdjust="spacingAndGlyphs">6</tspan><tspan x="450.92" textLength="4.03" lengthAdjust="spacingAndGlyphs">.</tspan><tspan x="454.85" textLength="8.64" lengthAdjust="spacingAndGlyphs">2</tspan></text>
<text y="449.5" font-size="14.49" font-weight="400" fill="#111" stroke="#111" stroke-width="0.25"><tspan x="500.94" textLength="7.79" lengthAdjust="spacingAndGlyphs">4</tspan><tspan x="509.13" textLength="8.55" lengthAdjust="spacingAndGlyphs">9</tspan><tspan x="517.62" textLength="4.03" lengthAdjust="spacingAndGlyphs">.</tspan><tspan x="521.72" textLength="8.37" lengthAdjust="spacingAndGlyphs">5</tspan></text>
<text y="449.5" font-size="14.49" font-weight="400" fill="#111" stroke="#111" stroke-width="0.25"><tspan x="567.65" textLength="8.64" lengthAdjust="spacingAndGlyphs">2</tspan><tspan x="576.51" textLength="8.2" lengthAdjust="spacingAndGlyphs">0</tspan><tspan x="584.82" textLength="4.03" lengthAdjust="spacingAndGlyphs">.</tspan><tspan x="589" textLength="8.28" lengthAdjust="spacingAndGlyphs">3</tspan></text>
<text y="449.5" font-size="14.49" font-weight="400" fill="#111" stroke="#111" stroke-width="0.25"><tspan x="630.8" textLength="8.28" lengthAdjust="spacingAndGlyphs">3</tspan><tspan x="639.12" textLength="4.03" lengthAdjust="spacingAndGlyphs">.</tspan><tspan x="643.22" textLength="8.37" lengthAdjust="spacingAndGlyphs">8</tspan></text>
<text y="478.5" font-size="14.49" font-weight="400" fill="#111" stroke="#111" stroke-width="0.25"><tspan x="371.32" textLength="8.37" lengthAdjust="spacingAndGlyphs">5</tspan><tspan x="380" textLength="8.28" lengthAdjust="spacingAndGlyphs">3</tspan><tspan x="388.32" textLength="4.03" lengthAdjust="spacingAndGlyphs">.</tspan><tspan x="392.42" textLength="8.37" lengthAdjust="spacingAndGlyphs">5</tspan></text>
<text y="478.5" font-size="14.49" font-weight="400" fill="#111" stroke="#111" stroke-width="0.25"><tspan x="434.8" textLength="8.28" lengthAdjust="spacingAndGlyphs">3</tspan><tspan x="443.41" textLength="8.2" lengthAdjust="spacingAndGlyphs">0</tspan></text>
<text y="478.5" font-size="14.49" font-weight="400" fill="#111" stroke="#111" stroke-width="0.25" clip-path="url(#h19)"><tspan x="500.7" textLength="4.91" lengthAdjust="spacingAndGlyphs" font-weight="700" stroke="#111" stroke-width="0.35">1</tspan><tspan x="505.13" textLength="8.55" lengthAdjust="spacingAndGlyphs">9</tspan><tspan x="513.62" textLength="4.03" lengthAdjust="spacingAndGlyphs">.</tspan><tspan x="517.72" textLength="8.37" lengthAdjust="spacingAndGlyphs">5</tspan></text>
<text y="478.5" font-size="14.49" font-weight="400" fill="#111" stroke="#111" stroke-width="0.25"><tspan x="567.82" textLength="8.37" lengthAdjust="spacingAndGlyphs">8</tspan></text>
<text y="478.5" font-size="14.49" font-weight="400" fill="#111" stroke="#111" stroke-width="0.25" clip-path="url(#h20)"><tspan x="630.8" textLength="4.91" lengthAdjust="spacingAndGlyphs" font-weight="700" stroke="#111" stroke-width="0.35">1</tspan><tspan x="635.12" textLength="4.03" lengthAdjust="spacingAndGlyphs">.</tspan><tspan x="639.22" textLength="8.37" lengthAdjust="spacingAndGlyphs">5</tspan></text>
<text x="304.39" y="508.57" font-size="14.13" font-weight="400" fill="#111" stroke="#111" stroke-width="0.25" textLength="22.72" lengthAdjust="spacingAndGlyphs">CM</text>
<text x="303.84" y="537.67" font-size="14.13" font-weight="400" fill="#111" stroke="#111" stroke-width="0.25" textLength="34.94" lengthAdjust="spacingAndGlyphs">INCH</text>
<text y="508.7" font-size="14.49" font-weight="400" fill="#111" stroke="#111" stroke-width="0.25" clip-path="url(#h21)"><tspan x="371.4" textLength="4.91" lengthAdjust="spacingAndGlyphs" font-weight="700" stroke="#111" stroke-width="0.35">1</tspan><tspan x="376" textLength="8.28" lengthAdjust="spacingAndGlyphs">3</tspan><tspan x="384.46" textLength="7.43" lengthAdjust="spacingAndGlyphs">7</tspan><tspan x="392.12" textLength="4.03" lengthAdjust="spacingAndGlyphs">.</tspan><tspan x="396.3" textLength="4.91" lengthAdjust="spacingAndGlyphs" font-weight="700" stroke="#111" stroke-width="0.35">1</tspan></text>
<text y="508.7" font-size="14.49" font-weight="400" fill="#111" stroke="#111" stroke-width="0.25"><tspan x="434.66" textLength="7.43" lengthAdjust="spacingAndGlyphs">7</tspan><tspan x="442.52" textLength="8.37" lengthAdjust="spacingAndGlyphs">8</tspan><tspan x="450.92" textLength="4.03" lengthAdjust="spacingAndGlyphs">.</tspan><tspan x="454.96" textLength="7.43" lengthAdjust="spacingAndGlyphs">7</tspan></text>
<text y="508.7" font-size="14.49" font-weight="400" fill="#111" stroke="#111" stroke-width="0.25"><tspan x="500.62" textLength="8.37" lengthAdjust="spacingAndGlyphs">5</tspan><tspan x="509.31" textLength="8.2" lengthAdjust="spacingAndGlyphs">0</tspan><tspan x="517.62" textLength="4.03" lengthAdjust="spacingAndGlyphs">.</tspan><tspan x="521.72" textLength="8.37" lengthAdjust="spacingAndGlyphs">8</tspan></text>
<text y="508.7" font-size="14.49" font-weight="400" fill="#111" stroke="#111" stroke-width="0.25"><tspan x="567.65" textLength="8.64" lengthAdjust="spacingAndGlyphs">2</tspan><tspan x="576.51" textLength="8.2" lengthAdjust="spacingAndGlyphs">0</tspan><tspan x="584.82" textLength="4.03" lengthAdjust="spacingAndGlyphs">.</tspan><tspan x="589" textLength="8.28" lengthAdjust="spacingAndGlyphs">3</tspan></text>
<text y="508.7" font-size="14.49" font-weight="400" fill="#111" stroke="#111" stroke-width="0.25"><tspan x="630.8" textLength="8.28" lengthAdjust="spacingAndGlyphs">3</tspan><tspan x="639.12" textLength="4.03" lengthAdjust="spacingAndGlyphs">.</tspan><tspan x="643.22" textLength="8.37" lengthAdjust="spacingAndGlyphs">8</tspan></text>
<text y="537.8" font-size="14.49" font-weight="400" fill="#111" stroke="#111" stroke-width="0.25"><tspan x="371.32" textLength="8.37" lengthAdjust="spacingAndGlyphs">5</tspan><tspan x="380.24" textLength="7.79" lengthAdjust="spacingAndGlyphs">4</tspan></text>
<text y="537.8" font-size="14.49" font-weight="400" fill="#111" stroke="#111" stroke-width="0.25" clip-path="url(#h22)"><tspan x="434.8" textLength="8.28" lengthAdjust="spacingAndGlyphs">3</tspan><tspan x="443.4" textLength="4.91" lengthAdjust="spacingAndGlyphs" font-weight="700" stroke="#111" stroke-width="0.35">1</tspan></text>
<text y="537.8" font-size="14.49" font-weight="400" fill="#111" stroke="#111" stroke-width="0.25"><tspan x="500.45" textLength="8.64" lengthAdjust="spacingAndGlyphs">2</tspan><tspan x="509.31" textLength="8.2" lengthAdjust="spacingAndGlyphs">0</tspan></text>
<text y="537.8" font-size="14.49" font-weight="400" fill="#111" stroke="#111" stroke-width="0.25"><tspan x="567.82" textLength="8.37" lengthAdjust="spacingAndGlyphs">8</tspan></text>
<text y="537.8" font-size="14.49" font-weight="400" fill="#111" stroke="#111" stroke-width="0.25" clip-path="url(#h23)"><tspan x="630.8" textLength="4.91" lengthAdjust="spacingAndGlyphs" font-weight="700" stroke="#111" stroke-width="0.35">1</tspan><tspan x="635.12" textLength="4.03" lengthAdjust="spacingAndGlyphs">.</tspan><tspan x="639.22" textLength="8.37" lengthAdjust="spacingAndGlyphs">5</tspan></text>
<text y="597.45" font-size="13.77" font-weight="400" fill="#363636" stroke="#363636" stroke-width="0.5"><tspan x="101.26" textLength="49.36" lengthAdjust="spacingAndGlyphs">Please</tspan> <tspan x="155.55" textLength="26.78" lengthAdjust="spacingAndGlyphs">use</tspan> <tspan x="186.4" textLength="26.14" lengthAdjust="spacingAndGlyphs">this</tspan> <tspan x="217.84" textLength="58.61" lengthAdjust="spacingAndGlyphs">country</tspan> <tspan x="280.61" textLength="67.39" lengthAdjust="spacingAndGlyphs">-specific</tspan> <tspan x="352.61" textLength="27.78" lengthAdjust="spacingAndGlyphs">size</tspan> <tspan x="384.29" textLength="43.7" lengthAdjust="spacingAndGlyphs">guide</tspan> <tspan x="432.58" textLength="15.12" lengthAdjust="spacingAndGlyphs">to</tspan> <tspan x="451.27" textLength="43.33" lengthAdjust="spacingAndGlyphs">assist</tspan> <tspan x="499.35" textLength="27.63" lengthAdjust="spacingAndGlyphs">you</tspan> <tspan x="530.64" textLength="14.44" lengthAdjust="spacingAndGlyphs">in</tspan> <tspan x="549.01" textLength="69.62" lengthAdjust="spacingAndGlyphs">selecting</tspan></text>
<text y="619.45" font-size="13.77" font-weight="400" fill="#363636" stroke="#363636" stroke-width="0.5"><tspan x="249.3" textLength="23.45" lengthAdjust="spacingAndGlyphs">the</tspan> <tspan x="276.84" textLength="54.36" lengthAdjust="spacingAndGlyphs">correct</tspan> <tspan x="335.86" textLength="27.94" lengthAdjust="spacingAndGlyphs">size</tspan> <tspan x="367.88" textLength="20.4" lengthAdjust="spacingAndGlyphs">for</tspan> <tspan x="392.85" textLength="33.83" lengthAdjust="spacingAndGlyphs">your</tspan> <tspan x="430.36" textLength="40.42" lengthAdjust="spacingAndGlyphs">order</tspan></text>
<text y="667.65" font-size="11.01" font-weight="400" fill="#363636" stroke="#363636" stroke-width="0.5"><tspan x="123.43" textLength="39.05" lengthAdjust="spacingAndGlyphs">Please</tspan> <tspan x="166.05" textLength="32.19" lengthAdjust="spacingAndGlyphs">note*</tspan> <tspan x="203.73" textLength="5.99" lengthAdjust="spacingAndGlyphs">-</tspan> <tspan x="213.55" textLength="13.66" lengthAdjust="spacingAndGlyphs">All</tspan> <tspan x="231.24" textLength="28.14" lengthAdjust="spacingAndGlyphs">sizes</tspan> <tspan x="263.39" textLength="20.24" lengthAdjust="spacingAndGlyphs">are</tspan> <tspan x="286.31" textLength="64.02" lengthAdjust="spacingAndGlyphs">measured</tspan> <tspan x="353.51" textLength="61.81" lengthAdjust="spacingAndGlyphs">manually;</tspan> <tspan x="418.33" textLength="40.28" lengthAdjust="spacingAndGlyphs">please</tspan> <tspan x="461.7" textLength="31.31" lengthAdjust="spacingAndGlyphs">allow</tspan> <tspan x="495.88" textLength="39.46" lengthAdjust="spacingAndGlyphs">1-2cm</tspan> <tspan x="538.34" textLength="57.99" lengthAdjust="spacingAndGlyphs">tolerance</tspan></text>
<text y="696.65" font-size="15.4" font-weight="700" fill="#111111" stroke="#111111" stroke-width="0.3" clip-path="url(#h24)"><tspan x="538.34" y="696.65" font-size="15.4" textLength="44.81" lengthAdjust="spacingAndGlyphs">LONG</tspan><tspan x="583.99" y="696.65" font-size="15.4" textLength="6.28" lengthAdjust="spacingAndGlyphs">-</tspan><tspan x="591.95" y="696.65" font-size="15.4" textLength="72.37" lengthAdjust="spacingAndGlyphs">KAFTANS</tspan><tspan x="665.8" y="696.65" font-size="15.4" textLength="6.15" lengthAdjust="spacingAndGlyphs">-</tspan><tspan x="673.64" y="696.65" font-size="15.4" textLength="7.79" lengthAdjust="spacingAndGlyphs">1</tspan></text>
</svg>
</body></html>
